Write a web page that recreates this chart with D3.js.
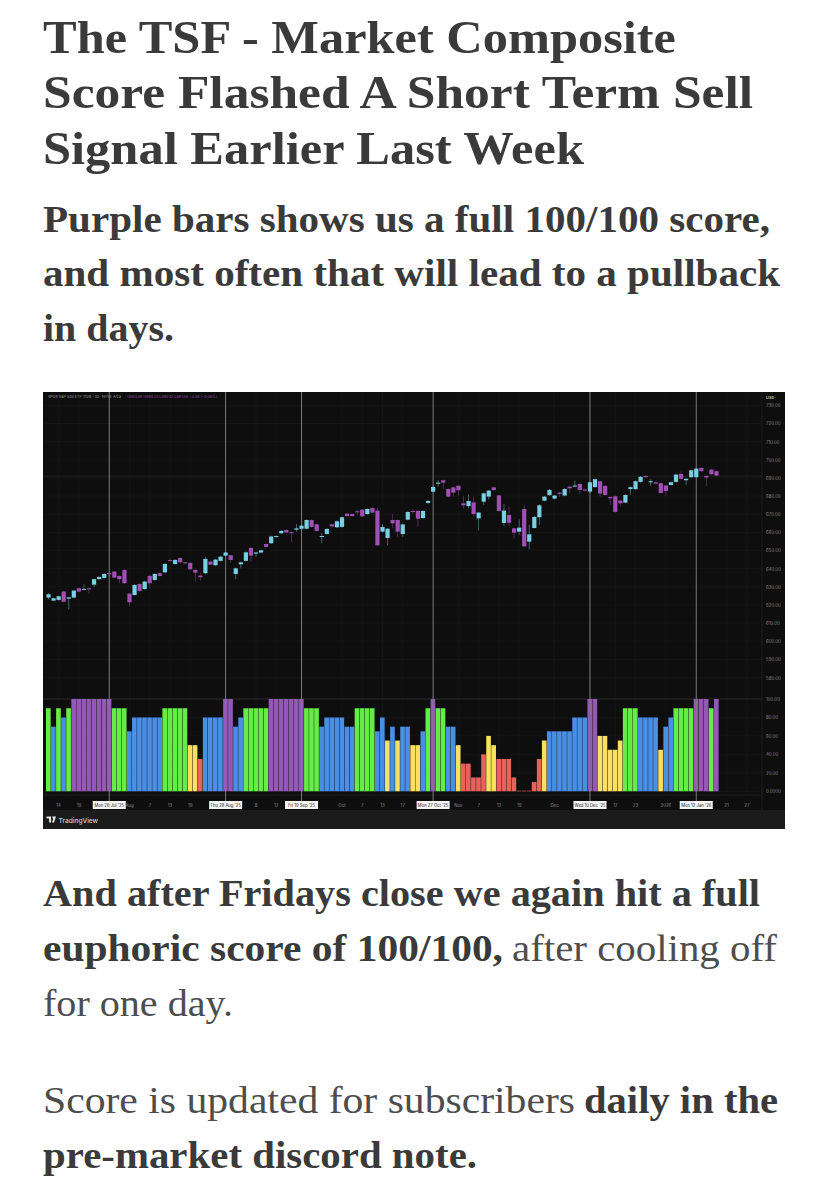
<!DOCTYPE html>
<html>
<head>
<meta charset="utf-8">
<script src="https://cdn.jsdelivr.net/npm/d3@7"></script>
<style>
html, body { margin: 0; padding: 0; background: #fff; }
svg { display: block; }
</style>
</head>
<body>
<main></main>
<script>
// daily candles, [open, high, low, close]
var ohlc = [
[624.1,626.4,623.1,625.9],[622.4,624.1,622.0,623.7],[622.8,625.2,622.4,624.8],[627.4,627.8,621.4,621.8],[623.5,624.6,617.6,624.2],
[624.1,628.3,623.7,627.9],[629.2,629.6,627.0,627.4],[628.5,631.4,628.3,628.8],[629.2,629.6,626.1,628.6],[631.2,634.6,629.7,634.2],
[634.2,635.9,634.0,635.4],[634.9,637.5,634.5,637.1],[637.6,638.0,636.5,636.9],[638.4,638.8,634.7,635.1],[636.0,636.4,632.0,634.2],
[639.3,639.7,631.6,632.0],[626.3,626.7,619.5,621.5],[625.5,631.4,625.1,631.0],[631.6,632.0,627.3,627.7],[628.8,633.3,628.4,632.9],
[636.0,636.4,629.0,632.0],[633.8,637.5,633.4,637.1],[637.5,637.9,635.6,636.0],[638.0,643.0,637.6,642.6],[644.8,645.7,643.9,644.4],
[642.6,645.2,642.2,644.8],[645.9,646.3,643.1,643.5],[643.5,643.9,642.6,643.0],[643.2,643.6,639.3,639.7],[639.3,639.7,632.9,637.8],
[636.2,638.0,633.4,635.3],[637.5,646.6,637.1,645.4],[643.9,644.3,641.8,642.2],[641.9,645.4,641.5,645.0],[644.3,647.0,643.9,646.6],
[647.2,649.3,646.8,648.9],[647.4,647.8,643.3,644.8],[637.1,640.6,634.2,640.2],[642.4,643.9,640.2,643.5],[644.3,649.4,643.9,649.0],
[651.4,651.8,643.7,647.2],[648.3,649.3,646.6,648.9],[648.9,650.5,648.5,650.1],[653.6,654.0,651.6,652.0],[654.0,658.1,653.6,657.7],
[657.5,658.4,657.1,658.0],[659.5,661.2,659.1,660.8],[661.3,661.7,659.5,659.9],[660.1,660.5,654.4,659.5],[661.5,664.6,660.4,662.2],
[662.0,664.1,661.6,663.7],[662.0,667.2,661.6,666.8],[666.8,667.2,662.6,663.0],[664.4,664.8,660.4,660.8],[657.5,659.5,654.0,658.0],
[659.1,662.3,658.7,661.9],[664.4,664.8,662.9,663.3],[662.8,666.5,662.4,666.1],[663.0,668.7,662.6,668.3],[670.3,670.7,668.6,669.0],
[670.1,670.5,668.6,669.0],[671.6,672.3,669.6,671.4],[672.5,672.9,668.4,668.8],[670.1,673.3,669.7,672.9],[673.4,673.8,670.5,670.9],
[672.0,673.6,652.5,652.9],[660.4,664.6,660.0,663.0],[656.9,662.4,652.9,662.0],[666.8,670.1,662.2,665.0],[666.8,667.2,657.6,660.4],
[659.1,664.8,657.6,664.4],[667.0,671.6,666.6,671.2],[671.8,672.7,670.1,671.6],[671.8,672.2,663.1,667.5],[667.9,672.2,667.5,671.8],
[676.2,677.7,675.8,677.3],[682.4,685.4,682.0,685.0],[686.8,688.9,685.2,687.4],[688.7,689.1,683.7,687.4],[683.9,684.3,679.3,679.7],
[684.8,685.2,679.7,681.9],[685.7,686.1,680.0,683.2],[676.0,680.0,673.2,674.9],[674.5,681.0,673.2,677.3],[676.5,679.7,668.6,670.1],
[667.7,671.3,660.9,670.9],[676.9,681.9,675.1,681.5],[679.7,683.4,678.2,683.0],[684.8,685.2,682.9,683.3],[680.4,680.8,671.4,671.8],
[665.2,675.6,663.5,672.0],[669.6,674.2,663.5,665.3],[662.2,662.6,656.7,659.8],[660.4,667.2,658.6,662.6],[672.9,675.1,651.9,652.3],
[654.9,664.1,650.6,658.9],[662.4,668.9,662.0,668.5],[668.3,675.5,664.1,674.9],[677.5,680.1,677.1,679.7],[680.5,683.8,680.1,683.4],
[678.6,680.7,678.2,680.3],[681.9,682.3,679.7,681.2],[680.3,684.3,679.9,683.9],[685.2,685.6,681.6,684.3],[685.4,688.5,684.9,685.8],
[686.7,687.1,681.2,683.4],[683.6,684.0,682.6,683.0],[682.5,688.0,681.6,687.6],[685.0,689.7,684.6,689.3],[688.2,688.6,679.7,681.4],
[685.6,686.0,680.2,680.6],[679.5,679.9,675.1,678.8],[679.9,680.3,670.9,671.3],[677.5,677.9,674.2,676.0],[676.4,681.0,676.0,680.6],
[683.9,685.3,680.6,684.9],[683.8,688.6,683.4,688.2],[687.8,691.0,687.4,690.6],[691.1,691.6,690.0,690.4],[687.6,689.3,685.6,688.2],
[687.6,688.0,686.5,686.9],[687.1,687.5,681.3,681.7],[685.8,686.2,680.1,682.8],[686.1,688.0,685.7,687.6],[687.8,692.2,687.4,691.8],
[692.2,693.5,689.1,689.5],[688.7,689.9,686.1,689.5],[690.4,694.6,690.0,694.2],[690.4,695.5,690.0,695.1],[695.5,695.9,693.3,693.7],
[691.1,691.5,685.2,690.2],[694.6,695.0,691.6,692.0],[693.7,694.1,690.9,691.3]
];

// TSF market composite score, one per candle
var scores = [
90,70,90,80,90,100,100,100,100,100,100,100,100,90,90,90,65,80,80,80,
80,80,80,90,90,90,90,90,50,50,35,80,80,80,80,100,100,70,80,90,
90,90,90,90,100,100,100,100,100,100,100,90,90,90,70,80,80,80,80,70,
70,90,90,90,90,65,80,55,70,55,70,70,50,50,65,90,100,90,90,70,
70,50,30,30,15,15,40,60,50,35,35,35,15,0,0,0,10,35,55,65,
65,65,65,65,80,80,80,100,100,60,60,45,45,55,90,90,90,80,80,80,
80,45,70,80,90,90,90,90,100,100,100,90,100
];

var priceTicks = [580,590,600,610,620,630,640,650,660,670,680,690,700,710,720,730];
var scoreTicks = [0,20,40,60,80,100];

// time axis: bar index -> label
var timeTickIdx = [2,6,16,20,24,28,41,45,58,62,66,70,81,85,89,93,100,112,116,122,134,138];
var timeTickLabels = ["14","19","Aug","7","13","19","8","12","Oct","7","13","17","Nov","7","13","19","Dec","17","23","2026","21","27"];

// the marked sell signal days
var signalIdx = [12,35,50,76,107,128];
var signalLabels = ["Mon 28 Jul '25","Thu 28 Aug '25","Fri 19 Sep '25","Mon 27 Oct '25","Wed 10 Dec '25","Mon 12 Jan '26"];

var legendText = "SPDR S&P 500 ETF Trust \u00b7 1D \u00b7 NYSE Arca";
var legendValues = "O693.69 H694.23 L690.10 C691.66 \u22120.39 (\u22120.06%)";

// page copy: each run is [text, bold, right edge in px, x start, baseline]
var titleLines = [["The TSF - Market Composite",676,53],["Score Flashed A Short Term Sell",753,108],["Signal Earlier Last Week",584,164]];
var subLines = [["Purple bars shows us a full 100/100 score,",770,232],["and most often that will lead to a pullback",780,286],["in days.",174,341]];
var bodyRuns = [
    ["And after Fridays close we again hit a full",true,43,760,906],
    ["euphoric score of 100/100,",true,43,503,961],
    ["after cooling off",false,512,777,961],
    ["for one day.",false,43,233,1016],
    ["Score is updated for subscribers",false,43,575,1113],
    ["daily in the",true,584,778,1113],
    ["pre-market discord note.",true,43,477,1168]
];

var serif = "'Liberation Serif', serif";
var sans = "Inter, 'Liberation Sans', sans-serif";
var cyan = "#78d0e4", purple = "#a04fb6";

var svg = d3.select("main")
    .append("svg")
    .attr("width", 828)
    .attr("height", 1200);

titleLines.forEach(function (l) {
    svg.append("text").text(l[0])
        .attr("x", 43).attr("y", l[2])
        .attr("font-family", serif).attr("font-weight", "bold").attr("font-size", 47)
        .attr("fill", "#3a3a3a")
        .attr("textLength", l[1] - 43).attr("lengthAdjust", "spacingAndGlyphs");
});
subLines.forEach(function (l) {
    svg.append("text").text(l[0])
        .attr("x", 43).attr("y", l[2])
        .attr("font-family", serif).attr("font-weight", "bold").attr("font-size", 37)
        .attr("fill", "#3a3a3a")
        .attr("textLength", l[1] - 43).attr("lengthAdjust", "spacingAndGlyphs");
});
bodyRuns.forEach(function (r) {
    svg.append("text").text(r[0])
        .attr("x", r[2]).attr("y", r[4])
        .attr("font-family", serif).attr("font-weight", r[1] ? "bold" : "normal").attr("font-size", 37)
        .attr("fill", r[1] ? "#3a3a3a" : "#4d4d4d")
        .attr("textLength", r[3] - r[2]).attr("lengthAdjust", "spacingAndGlyphs");
});

// chart panel
var chart = svg.append("g").attr("id", "chart");
chart.append("rect").attr("x", 43).attr("y", 392).attr("width", 742).attr("height", 437).attr("fill", "#0e0e0e");
chart.append("rect").attr("x", 43).attr("y", 810).attr("width", 742).attr("height", 19).attr("fill", "#1b1b1b");

var x = d3.scaleBand().domain(d3.range(141)).range([46, 759.5]);
var y = d3.scaleLinear().domain([580, 730]).range([677.6, 405.3]);
var yScore = d3.scaleLinear().domain([0, 100]).range([791.3, 699]);
var scoreColor = d3.scaleThreshold().domain([45, 65, 90, 100])
    .range(["#e8615a", "#f7e062", "#4a8fe3", "#66ec46", "#9558b4"]);
function cx(i) { return x(i) + x.bandwidth() / 2; }

// faint grid
var grid = chart.append("g").attr("stroke", "#181818").attr("stroke-width", 0.6);
grid.selectAll("line.p").data(priceTicks).enter().append("line").attr("class", "p")
    .attr("x1", 43).attr("x2", 762).attr("y1", function (d) { return y(d); }).attr("y2", function (d) { return y(d); });
grid.selectAll("line.s").data(scoreTicks).enter().append("line").attr("class", "s")
    .attr("x1", 43).attr("x2", 762).attr("y1", function (d) { return yScore(d); }).attr("y2", function (d) { return yScore(d); });
grid.selectAll("line.t").data(timeTickIdx).enter().append("line").attr("class", "t")
    .attr("x1", cx).attr("x2", cx).attr("y1", 392).attr("y2", 795);

// last price and top score lines
chart.append("line").attr("x1", 43).attr("x2", 762).attr("y1", y(691)).attr("y2", y(691)).attr("stroke", "#2c2c2c").attr("stroke-width", 0.7);
chart.append("line").attr("x1", 43).attr("x2", 762).attr("y1", yScore(100)).attr("y2", yScore(100)).attr("stroke", "#333").attr("stroke-width", 0.7);
chart.append("line").attr("x1", 762).attr("x2", 762).attr("y1", 392).attr("y2", 810).attr("stroke", "#222").attr("stroke-width", 0.7);
chart.append("line").attr("x1", 43).attr("x2", 762).attr("y1", 795).attr("y2", 795).attr("stroke", "#222").attr("stroke-width", 0.7);

// score histogram
chart.append("g").selectAll("rect").data(scores).enter().append("rect")
    .attr("x", function (d, i) { return x(i); })
    .attr("width", x.bandwidth() - 0.4)
    .attr("y", function (d) { return d > 0 ? yScore(d) : yScore(0) - 0.6; })
    .attr("height", function (d) { return d > 0 ? yScore(0) - yScore(d) : 0.6; })
    .attr("fill", function (d) { return scoreColor(d); });

// signal lines
chart.append("g").selectAll("line").data(signalIdx).enter().append("line")
    .attr("x1", cx).attr("x2", cx).attr("y1", 392).attr("y2", 802)
    .attr("stroke", "#7c7c7c").attr("stroke-width", 1);

// candles
function candleColor(d) { return d[3] >= d[0] ? cyan : purple; }
var candles = chart.append("g");
candles.selectAll("line").data(ohlc).enter().append("line")
    .attr("x1", function (d, i) { return cx(i); })
    .attr("x2", function (d, i) { return cx(i); })
    .attr("y1", function (d) { return y(d[1]); })
    .attr("y2", function (d) { return y(d[2]); })
    .attr("stroke", candleColor).attr("stroke-width", 0.6).attr("opacity", 0.75);
candles.selectAll("rect").data(ohlc).enter().append("rect")
    .attr("x", function (d, i) { return cx(i) - 2.1; })
    .attr("width", 4.2)
    .attr("y", function (d) { return y(Math.max(d[0], d[3])); })
    .attr("height", function (d) { return Math.max(1, Math.abs(y(d[0]) - y(d[3]))); })
    .attr("fill", candleColor);

// right hand scales
var priceAxis = chart.append("g").attr("transform", "translate(762,0)")
    .call(d3.axisRight(y).tickValues(priceTicks).tickSize(0).tickPadding(4).tickFormat(d3.format(".2f")));
var scoreAxis = chart.append("g").attr("transform", "translate(762,0)")
    .call(d3.axisRight(yScore).tickValues(scoreTicks).tickSize(0).tickPadding(4)
        .tickFormat(function (d) { return d === 0 ? "0.0000" : d3.format(".2f")(d); }));
[priceAxis, scoreAxis].forEach(function (a) {
    a.select(".domain").remove();
    a.selectAll("text").attr("fill", "#8a8a8a").attr("font-family", sans).attr("font-size", 4.4);
});
chart.append("text").text("USD").attr("x", 766).attr("y", 399)
    .attr("fill", "#aaa").attr("font-family", sans).attr("font-size", 4).attr("font-weight", "bold");

// time axis
var timeAxis = chart.append("g").attr("transform", "translate(0,803.5)")
    .call(d3.axisBottom(x).tickValues(timeTickIdx).tickSize(0).tickPadding(0)
        .tickFormat(function (d) { return timeTickLabels[timeTickIdx.indexOf(d)]; }));
timeAxis.select(".domain").remove();
timeAxis.selectAll("text").attr("fill", "#8a8a8a").attr("font-family", sans).attr("font-size", 4.4);

// date flags on the signal lines
var flags = chart.append("g").selectAll("g").data(signalIdx).enter().append("g")
    .attr("transform", function (d) { return "translate(" + cx(d) + ",805)"; });
flags.append("rect").attr("x", -16.5).attr("y", -4).attr("width", 33).attr("height", 8).attr("fill", "#f4f4f4");
flags.append("text").text(function (d, i) { return signalLabels[i]; })
    .attr("text-anchor", "middle").attr("y", 1.5)
    .attr("fill", "#222").attr("font-family", sans).attr("font-size", 4.2);

// pane legend
chart.append("text").text(legendText).attr("x", 48).attr("y", 398)
    .attr("fill", "#9a9a9a").attr("font-family", sans).attr("font-size", 3.7);
chart.append("text").text(legendValues).attr("x", 127).attr("y", 398)
    .attr("fill", "#8d4aa3").attr("font-family", sans).attr("font-size", 3.7);

// TradingView logo and name
chart.append("path").attr("d", "M46.5 816.5h4.6v6h-2v-4h-2.6z M52 816.5h4l-2 6h-2l1.2-3.6z").attr("fill", "#e6e6e6");
chart.append("text").text("TradingView").attr("x", 58.5).attr("y", 822.5)
    .attr("fill", "#cfcfcf").attr("font-family", sans).attr("font-size", 6.6).attr("font-weight", 500);
</script>
</body>
</html>
